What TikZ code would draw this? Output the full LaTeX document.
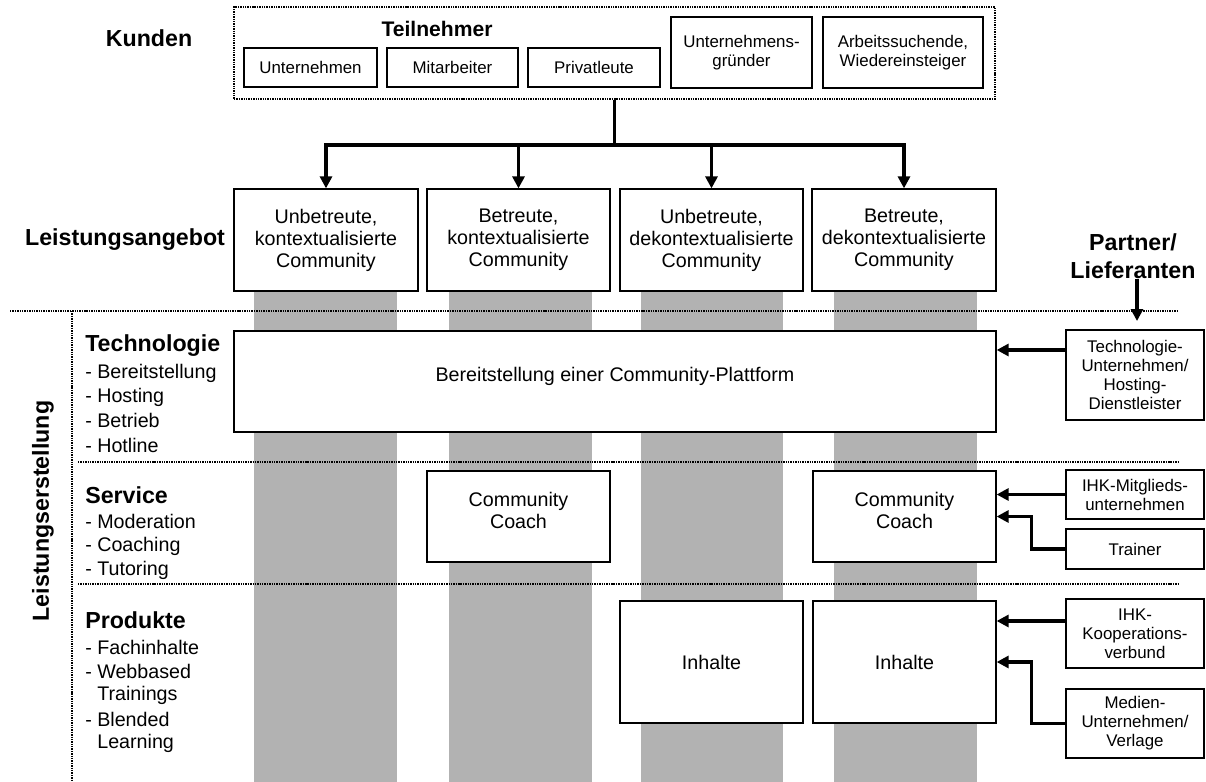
\documentclass[tikz,border=0pt]{standalone}
\usepackage{fontspec}
\setmainfont{Liberation Sans}
\usetikzlibrary{arrows.meta}
\tikzstyle{box}=[draw,line width=0.9,fill=white,align=center,inner sep=0]
\tikzstyle{group}=[draw,dash pattern=on 1pt off 0.7pt,line width=1.3,inner sep=0]
\tikzstyle{sep}=[dash pattern=on 1pt off 0.7pt,line width=1.3]
\tikzstyle{column}=[fill=black!30]
\tikzstyle{conn}=[line width=2.2,-{Triangle[length=8.5,width=8.5]}]
\tikzstyle{head}=[font=\bfseries\fontsize{16.5}{20}\selectfont,align=center,inner sep=0]
\tikzstyle{item}=[anchor=west,inner sep=0,font=\fontsize{14}{17}\selectfont]
\tikzstyle{small}=[font=\fontsize{12}{13.5}\selectfont]
\tikzstyle{offer}=[font=\fontsize{14}{15.6}\selectfont]
\tikzset{wh/.style 2 args={minimum width=#1*\pix,minimum height=#2*\pix}}

\begin{document}
\begin{tikzpicture}[x=0.025cm,y=-0.025cm]
  \def\pix{0.025cm} % one pixel
  \def\top{280}     % top of the columns
  \def\bot{782}     % bottom of the columns
  \useasboundingbox (0,0) rectangle (1206,782);

  % COLUMNS
  \foreach \a/\b in {254/397,449/592,641/783,834/977}
    \fill[column] (\a,\top) rectangle (\b,\bot);

  % SEPARATORS
  \draw[sep] (10,311) -- (1178,311);
  \draw[sep] (78,462) -- (1178,462);
  \draw[sep] (78,584) -- (1178,584);
  \draw[sep] (72,311) -- (72,782);

  % KUNDEN
  \node[head] (kunden) at (149,38) {Kunden};
  \node[group,wh={761}{92}] (teiln) at (614.5,53) {};
  \node[font=\bfseries\fontsize{15}{18}\selectfont] (teilnlabel) at (437,29) {Teilnehmer};
  \node[box,small,wh={133}{39}] (unt) at (310.5,67.5) {Unternehmen};
  \node[box,small,wh={131}{39}] (mit) at (452.5,67.5) {Mitarbeiter};
  \node[box,small,wh={132}{39}] (priv) at (594,67.5) {Privatleute};
  \node[box,small,wh={141}{71}] (gruend) at (741.5,52.5) {Unternehmens-\\gründer};
  \node[box,small,wh={160}{71}] (arbeit) at (903,52.5) {Arbeitssuchende,\\Wiedereinsteiger};

  % LEISTUNGSANGEBOT
  \node[head] (angebot) at (125,240) {Leistungsangebot};
  \node[box,offer,wh={184}{102}] (off1) at (326,240) {Unbetreute,\\kontextualisierte\\Community};
  \node[box,offer,wh={183}{102}] (off2) at (518.5,240) {Betreute,\\kontextualisierte\\Community};
  \node[box,offer,wh={183}{102}] (off3) at (711.5,240) {Unbetreute,\\dekontextualisierte\\Community};
  \node[box,offer,wh={184}{102}] (off4) at (904,240) {Betreute,\\dekontextualisierte\\Community};
  \coordinate (split) at (614.5,145);
  \draw[line width=2.2] (teiln.south) -- (split);
  \foreach \n in {off1,off2,off3,off4}
    \draw[conn] (split) -| (\n.north);

  % LEISTUNGSERSTELLUNG
  \node[head,rotate=90] (erstellung) at (43,511) {Leistungserstellung};
  \node[head,anchor=west] (techhead) at (85,346) {Technologie};
  \foreach \t/\y [count=\i] in {Bereitstellung/373,Hosting/397,Betrieb/420,Hotline/445}
    \node[item] (tech\i) at (85,\y) {- \t};
  \node[head,anchor=west] (servhead) at (85,495) {Service};
  \foreach \t/\y [count=\i] in {Moderation/521,Coaching/546,Tutoring/570}
    \node[item] (serv\i) at (85,\y) {- \t};
  \node[head,anchor=west] (prodhead) at (85,620) {Produkte};
  \foreach \t/\y [count=\i] in {- Fachinhalte/647,- Webbased/671,\phantom{- }Trainings/695,- Blended/719,\phantom{- }Learning/743}
    \node[item] (prod\i) at (85,\y) {\t};

  \node[box,offer,wh={762}{101},label={[offer,yshift=3.5pt]center:Bereitstellung einer Community-Plattform}] (tech) at (615,381.5) {};
  \node[box,wh={183}{91},label={[offer,align=center,yshift=4pt]center:Community\\Coach}] (coach2) at (518.5,516.5) {};
  \node[box,wh={183}{91},label={[offer,align=center,yshift=4pt]center:Community\\Coach}] (coach4) at (904.5,516.5) {};
  \node[box,offer,wh={183}{122}] (inhalt3) at (711.5,662) {Inhalte};
  \node[box,offer,wh={183}{122}] (inhalt4) at (904.5,662) {Inhalte};

  % PARTNER
  \node[head] (partner) at (1133,256) {Partner/\\Lieferanten};
  \coordinate (pin) at (1137,321);
  \draw[conn] (partner.south -| pin) -- (pin);
  \node[box,small,wh={138}{90}] (ptech) at (1135,375) {Technologie-\\Unternehmen/\\Hosting-\\Dienstleister};
  \node[box,small,wh={138}{49}] (pihk) at (1135,494.5) {IHK-Mitglieds-\\unternehmen};
  \node[box,small,wh={138}{40}] (ptrainer) at (1135,549) {Trainer};
  \node[box,small,wh={138}{69}] (pkoop) at (1135,633.5) {IHK-\\Kooperations-\\verbund};
  \node[box,small,wh={138}{69}] (pmedien) at (1135,723.5) {Medien-\\Unternehmen/\\Verlage};

  \draw[conn] ([yshift=0.625cm]ptech.west) -- ([yshift=0.625cm]ptech.west -| tech.east);
  \draw[conn] (pihk.west) -- (pihk.west -| coach4.east);
  \draw[conn] (ptrainer.west) -- ++(-34,0) |- (coach4.east);
  \draw[conn] ([yshift=0.3125cm]pkoop.west) -- ([yshift=0.3125cm]pkoop.west -| inhalt4.east);
  \draw[conn] (pmedien.west) -- ++(-34,0) |- (inhalt4.east);

\end{tikzpicture}
\end{document}
